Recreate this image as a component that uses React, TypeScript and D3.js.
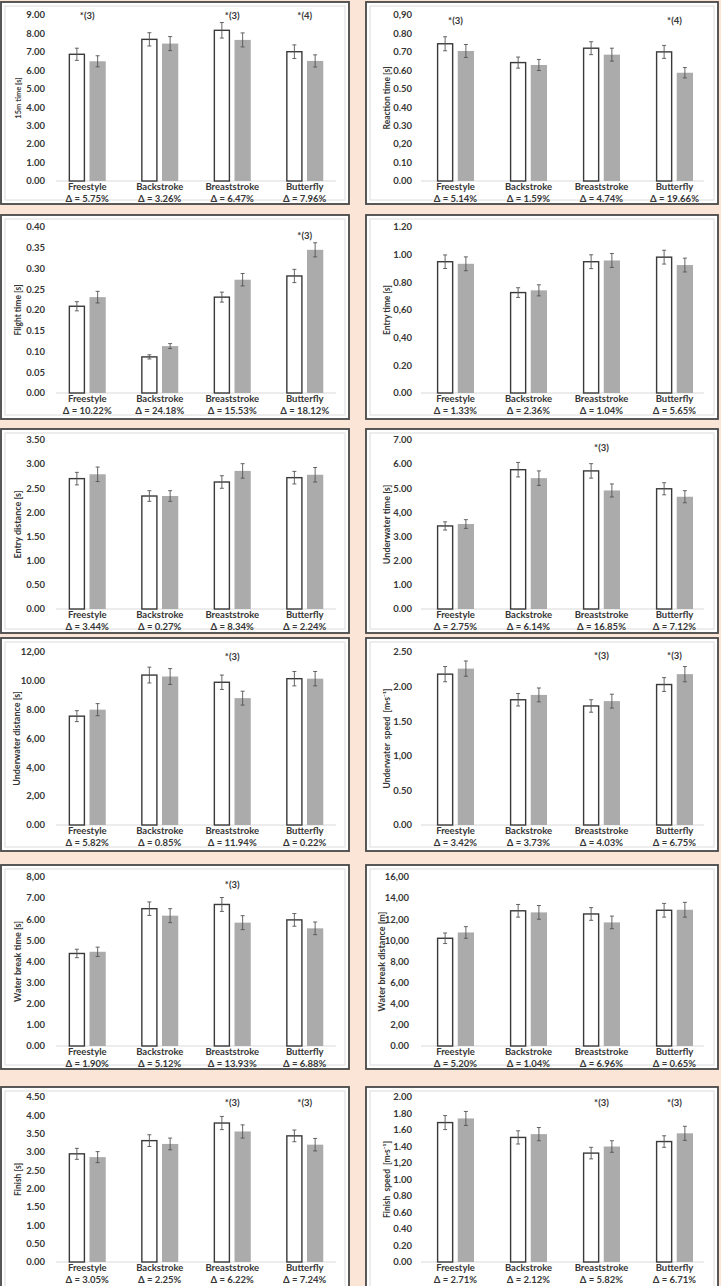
import React from "react";
import * as d3 from "d3";

// ---------------- DATA ----------------
const strokes = ["Freestyle", "Backstroke", "Breaststroke", "Butterfly"];
const groups = ["pre", "post"];

// Panel 1 – 15m time
const t15Ticks = ["0.00", "1.00", "2.00", "3.00", "4.00", "5.00", "6.00", "7.00", "8.00", "9.00"];
const t15Pre = [6.87, 7.68, 8.17, 7.01];
const t15PreSd = [0.33, 0.36, 0.42, 0.37];
const t15Post = [6.49, 7.45, 7.65, 6.51];
const t15PostSd = [0.3, 0.38, 0.38, 0.33];
const t15Delta = ["5.75", "3.26", "6.47", "7.96"];
const t15Sig = ["*(3)", "", "*(3)", "*(4)"];
const t15SigAt = 8.95;

// Panel 2 – Reaction time
const reacTicks = ["0.00", "0.10", "0,20", "0.30", "0.40", "0.50", "0.60", "0.70", "0.80", "0,90"];
const reacPre = [0.744, 0.642, 0.72, 0.7];
const reacPreSd = [0.038, 0.03, 0.035, 0.035];
const reacPost = [0.705, 0.629, 0.685, 0.587];
const reacPostSd = [0.035, 0.03, 0.035, 0.028];
const reacDelta = ["5.14", "1.59", "4.74", "19.66"];
const reacSig = ["*(3)", "", "", "*(4)"];
const reacSigAt = 0.87;

// Panel 3 – Flight time
const flightTicks = ["0.00", "0.05", "0.10", "0.15", "0.20", "0.25", "0.30", "0.35", "0.40"];
const flightPre = [0.209, 0.087, 0.231, 0.282];
const flightPreSd = [0.011, 0.005, 0.012, 0.016];
const flightPost = [0.231, 0.113, 0.273, 0.345];
const flightPostSd = [0.014, 0.006, 0.015, 0.017];
const flightDelta = ["10.22", "24.18", "15.53", "18.12"];
const flightSig = ["", "", "", "*(3)"];
const flightSigAt = 0.38;

// Panel 4 – Entry time
const entryTTicks = ["0.00", "0.20", "0,40", "0,60", "0.80", "1.00", "1.20"];
const entryTPre = [0.949, 0.726, 0.949, 0.982];
const entryTPreSd = [0.049, 0.035, 0.05, 0.05];
const entryTPost = [0.934, 0.742, 0.958, 0.925];
const entryTPostSd = [0.05, 0.04, 0.05, 0.05];
const entryTDelta = ["1.33", "2.36", "1.04", "5.65"];
const entryTSig = ["", "", "", ""];
const entryTSigAt = 1.15;

// Panel 5 – Entry distance
const entryDTicks = ["0.00", "0.50", "1.00", "1.50", "2.00", "2.50", "3.00", "3.50"];
const entryDPre = [2.7, 2.34, 2.63, 2.72];
const entryDPreSd = [0.13, 0.11, 0.13, 0.13];
const entryDPost = [2.79, 2.34, 2.86, 2.78];
const entryDPostSd = [0.15, 0.11, 0.15, 0.15];
const entryDDelta = ["3.44", "0.27", "8.34", "2.24"];
const entryDSig = ["", "", "", ""];
const entryDSigAt = 3.4;

// Panel 6 – Underwater time
const uwTTicks = ["0.00", "1.00", "2.00", "3.00", "4,00", "5.00", "6.00", "7.00"];
const uwTPre = [3.44, 5.77, 5.72, 4.98];
const uwTPreSd = [0.17, 0.3, 0.3, 0.25];
const uwTPost = [3.52, 5.42, 4.91, 4.65];
const uwTPostSd = [0.18, 0.3, 0.27, 0.25];
const uwTDelta = ["2.75", "6.14", "16.85", "7.12"];
const uwTSig = ["", "", "*(3)", ""];
const uwTSigAt = 6.7;

// Panel 7 – Underwater distance
const uwDTicks = ["0.00", "2,00", "4,00", "6,00", "8.00", "10.00", "12,00"];
const uwDPre = [7.55, 10.4, 9.9, 10.15];
const uwDPreSd = [0.38, 0.55, 0.5, 0.5];
const uwDPost = [8.0, 10.3, 8.8, 10.15];
const uwDPostSd = [0.42, 0.55, 0.48, 0.5];
const uwDDelta = ["5.82", "0.85", "11.94", "0.22"];
const uwDSig = ["", "", "*(3)", ""];
const uwDSigAt = 11.7;

// Panel 8 – Underwater speed
const uwSTicks = ["0.00", "0.50", "1,00", "1.50", "2.00", "2.50"];
const uwSPre = [2.18, 1.81, 1.72, 2.03];
const uwSPreSd = [0.11, 0.09, 0.09, 0.1];
const uwSPost = [2.26, 1.88, 1.79, 2.18];
const uwSPostSd = [0.11, 0.1, 0.1, 0.11];
const uwSDelta = ["3.42", "3.73", "4.03", "6.75"];
const uwSSig = ["", "", "*(3)", "*(3)"];
const uwSSigAt = 2.44;

// Panel 9 – Water break time
const wbTTicks = ["0.00", "1.00", "2.00", "3.00", "4.00", "5.00", "6.00", "7.00", "8,00"];
const wbTPre = [4.38, 6.5, 6.7, 5.97];
const wbTPreSd = [0.2, 0.32, 0.33, 0.3];
const wbTPost = [4.46, 6.17, 5.84, 5.57];
const wbTPostSd = [0.22, 0.33, 0.33, 0.3];
const wbTDelta = ["1.90", "5.12", "13.93", "6.88"];
const wbTSig = ["", "", "*(3)", ""];
const wbTSigAt = 7.65;

// Panel 10 – Water break distance
const wbDTicks = ["0.00", "2,00", "4,00", "6,00", "8,00", "10,00", "12,00", "14,00", "16,00"];
const wbDPre = [10.2, 12.8, 12.5, 12.85];
const wbDPreSd = [0.5, 0.6, 0.6, 0.65];
const wbDPost = [10.75, 12.65, 11.7, 12.9];
const wbDPostSd = [0.55, 0.65, 0.6, 0.7];
const wbDDelta = ["5.20", "1.04", "6.96", "0.65"];
const wbDSig = ["", "", "", ""];
const wbDSigAt = 15.5;

// Panel 11 – Finish
const finTicks = ["0.00", "0.50", "1.00", "1.50", "2.00", "2.50", "3.00", "3.50", "4.00", "4.50"];
const finPre = [2.95, 3.31, 3.79, 3.44];
const finPreSd = [0.15, 0.16, 0.18, 0.16];
const finPost = [2.86, 3.22, 3.56, 3.2];
const finPostSd = [0.15, 0.16, 0.18, 0.17];
const finDelta = ["3.05", "2.25", "6.22", "7.24"];
const finSig = ["", "", "*(3)", "*(3)"];
const finSigAt = 4.34;

// Panel 12 – Finish speed
const finSTicks = ["0.00", "0.20", "0.40", "0.60", "0.80", "1.00", "1,20", "1.40", "1.60", "1.80", "2.00"];
const finSPre = [1.69, 1.51, 1.32, 1.46];
const finSPreSd = [0.085, 0.08, 0.07, 0.07];
const finSPost = [1.74, 1.55, 1.4, 1.56];
const finSPostSd = [0.085, 0.08, 0.07, 0.085];
const finSDelta = ["2.71", "2.12", "5.82", "6.71"];
const finSSig = ["", "", "*(3)", "*(3)"];
const finSSigAt = 1.93;

const titles = [
  "15m time [s]", "Reaction time [s]",
  "Flight time [s]", "Entry time [s]",
  "Entry distance [s]", "Underwater time [s]",
  "Underwater distance [s]", "Underwater  speed  [m\u00b7s\u207b\u00b9]",
  "Water break time [s]", "Water break distance [m]",
  "Finish [s]", "Finish  speed  [m\u00b7s\u207b\u00b9]",
];

const panels = [
  [t15Ticks, t15Pre, t15PreSd, t15Post, t15PostSd, t15Delta, t15Sig, t15SigAt],
  [reacTicks, reacPre, reacPreSd, reacPost, reacPostSd, reacDelta, reacSig, reacSigAt],
  [flightTicks, flightPre, flightPreSd, flightPost, flightPostSd, flightDelta, flightSig, flightSigAt],
  [entryTTicks, entryTPre, entryTPreSd, entryTPost, entryTPostSd, entryTDelta, entryTSig, entryTSigAt],
  [entryDTicks, entryDPre, entryDPreSd, entryDPost, entryDPostSd, entryDDelta, entryDSig, entryDSigAt],
  [uwTTicks, uwTPre, uwTPreSd, uwTPost, uwTPostSd, uwTDelta, uwTSig, uwTSigAt],
  [uwDTicks, uwDPre, uwDPreSd, uwDPost, uwDPostSd, uwDDelta, uwDSig, uwDSigAt],
  [uwSTicks, uwSPre, uwSPreSd, uwSPost, uwSPostSd, uwSDelta, uwSSig, uwSSigAt],
  [wbTTicks, wbTPre, wbTPreSd, wbTPost, wbTPostSd, wbTDelta, wbTSig, wbTSigAt],
  [wbDTicks, wbDPre, wbDPreSd, wbDPost, wbDPostSd, wbDDelta, wbDSig, wbDSigAt],
  [finTicks, finPre, finPreSd, finPost, finPostSd, finDelta, finSig, finSigAt],
  [finSTicks, finSPre, finSPreSd, finSPost, finSPostSd, finSDelta, finSSig, finSSigAt],
].map((a: any, i) => ({
  title: titles[i],
  ticks: a[0] as string[],
  pre: a[1] as number[],
  preSd: a[2] as number[],
  post: a[3] as number[],
  postSd: a[4] as number[],
  delta: a[5] as string[],
  sig: a[6] as string[],
  sigAt: a[7] as number,
}));

// ---------------- LAYOUT ----------------
const W = 721;
const H = 1286;
const BG = "#FBE5D6";
const TEXT = "#363636";
const FONT = "Lato, 'Open Sans', sans-serif";
const titleSizes = [7.5, 8.5, 8.5, 8.5, 9, 9, 9, 8.5, 9, 9, 8.5, 8.5];

const rowLayout = [
  { top: 2, bottom: 204, yTop: 15, yBottom: 181 },
  { top: 215, bottom: 419, yTop: 227, yBottom: 393 },
  { top: 429, bottom: 633, yTop: 440, yBottom: 609 },
  { top: 638, bottom: 851, yTop: 652, yBottom: 825 },
  { top: 865, bottom: 1069, yTop: 877, yBottom: 1046 },
  { top: 1087, bottom: 1292, yTop: 1097, yBottom: 1262 },
];
const colLayout = [
  { x0: 1, x1: 349, xr: [51, 341], labelX: 45, titleX: 18, axis: [56, 336] },
  { x0: 366, x1: 718, xr: [419, 711], labelX: 412, titleX: 387, axis: [421, 704] },
];

const parseTick = (s: string) => +s.replace(",", ".");

function Panel({ p, row, col, titleSize }: any) {
  const tickVals = p.ticks.map(parseTick);
  const y = d3
    .scaleLinear()
    .domain([0, d3.max(tickVals) as number])
    .range([row.yBottom, row.yTop]);
  const x0 = d3.scaleBand<string>().domain(strokes).range(col.xr).padding(0);
  const bw = x0.bandwidth();
  const pairW = 37;
  const x1 = d3
    .scaleBand<string>()
    .domain(groups)
    .range([bw / 2 - pairW / 2, bw / 2 + pairW / 2])
    .paddingInner(0.217);
  const barW = x1.bandwidth();
  const capW = 2;
  const longLabels = p.ticks.some((t: string) => t.length >= 5);
  const labelX = longLabels && col.x0 > 100 ? col.labelX - 3 : col.labelX;
  const titleX = longLabels ? col.titleX - (col.x0 > 100 ? 5 : 1) : col.titleX;

  return (
    <g>
      <rect
        x={col.x0}
        y={row.top}
        width={col.x1 - col.x0}
        height={row.bottom - row.top}
        fill="#ffffff"
        stroke="#474747"
        strokeWidth={1.8}
      />
      <rect
        x={col.x0 + 4}
        y={row.top + 4}
        width={col.x1 - col.x0 - 8}
        height={row.bottom - row.top - 8}
        fill="none"
        stroke="#dcdcdc"
        strokeWidth={1}
      />
      {p.ticks.map((t: string, i: number) => (
        <text
          key={t + i}
          x={labelX}
          y={y(tickVals[i])}
          dy="0.35em"
          textAnchor="end"
          fontSize={9.5}
          fontWeight={700}
          fill={TEXT}
          fontFamily={FONT}
        >
          {t}
        </text>
      ))}
      <text
        transform={`translate(${titleX},${(row.yTop + row.yBottom) / 2}) rotate(-90)`}
        textAnchor="middle"
        dy="0.35em"
        fontSize={titleSize}
        fontWeight={700}
        fill={TEXT}
        fontFamily={FONT}
        style={{ whiteSpace: "pre" }}
      >
        {p.title}
      </text>
      <line
        x1={col.axis[0]}
        x2={col.axis[1]}
        y1={y(0)}
        y2={y(0)}
        stroke="#d9d9d9"
        strokeWidth={1}
      />
      {strokes.map((s, i) => {
        const cx = (x0(s) as number) + bw / 2;
        const bars = [
          { g: "pre", v: p.pre[i], sd: p.preSd[i] },
          { g: "post", v: p.post[i], sd: p.postSd[i] },
        ];
        return (
          <g key={s}>
            {bars.map((b) => {
              const bx = (x0(s) as number) + (x1(b.g) as number);
              const mx = bx + barW / 2;
              return (
                <g key={b.g}>
                  {b.g === "pre" ? (
                    <rect
                      x={bx + 0.6}
                      y={y(b.v)}
                      width={barW - 1.2}
                      height={y(0) - y(b.v)}
                      fill="#ffffff"
                      stroke="#3a3a3a"
                      strokeWidth={1.4}
                    />
                  ) : (
                    <rect
                      x={bx}
                      y={y(b.v)}
                      width={barW}
                      height={y(0) - y(b.v)}
                      fill="#ababab"
                    />
                  )}
                  <line x1={mx} x2={mx} y1={y(b.v - b.sd)} y2={y(b.v + b.sd)} stroke="#555" strokeWidth={0.9} />
                  <line x1={mx - capW} x2={mx + capW} y1={y(b.v + b.sd)} y2={y(b.v + b.sd)} stroke="#555" strokeWidth={0.9} />
                  <line x1={mx - capW} x2={mx + capW} y1={y(b.v - b.sd)} y2={y(b.v - b.sd)} stroke="#555" strokeWidth={0.9} />
                </g>
              );
            })}
            <text
              x={cx}
              y={y(0) + 6}
              dy="0.35em"
              textAnchor="middle"
              fontSize={9.5}
              fontWeight={700}
              fill={TEXT}
              fontFamily={FONT}
            >
              {s}
            </text>
            <text
              x={cx}
              y={y(0) + 17.5}
              dy="0.35em"
              textAnchor="middle"
              fontSize={9.5}
              fontWeight={700}
              fill={TEXT}
              fontFamily={FONT}
            >
              {`\u0394 = ${p.delta[i]}%`}
            </text>
            {p.sig[i] ? (
              <text
                x={cx}
                y={y(p.sigAt)}
                dy="0.35em"
                textAnchor="middle"
                fontSize={9.5}
                fontWeight={700}
                fill={TEXT}
                fontFamily={FONT}
              >
                {p.sig[i]}
              </text>
            ) : null}
          </g>
        );
      })}
    </g>
  );
}

export default function App() {
  return (
    <div style={{ position: "absolute", left: 0, top: 0, width: W, height: H, overflow: "hidden" }}>
      <svg width={W} height={H} viewBox={`0 0 ${W} ${H}`} style={{ display: "block" }}>
        <rect x={0} y={0} width={W} height={H} fill={BG} />
        {panels.map((p, i) => (
          <Panel
            key={i}
            p={p}
            row={rowLayout[Math.floor(i / 2)]}
            col={colLayout[i % 2]}
            titleSize={titleSizes[i]}
          />
        ))}
      </svg>
    </div>
  );
}
